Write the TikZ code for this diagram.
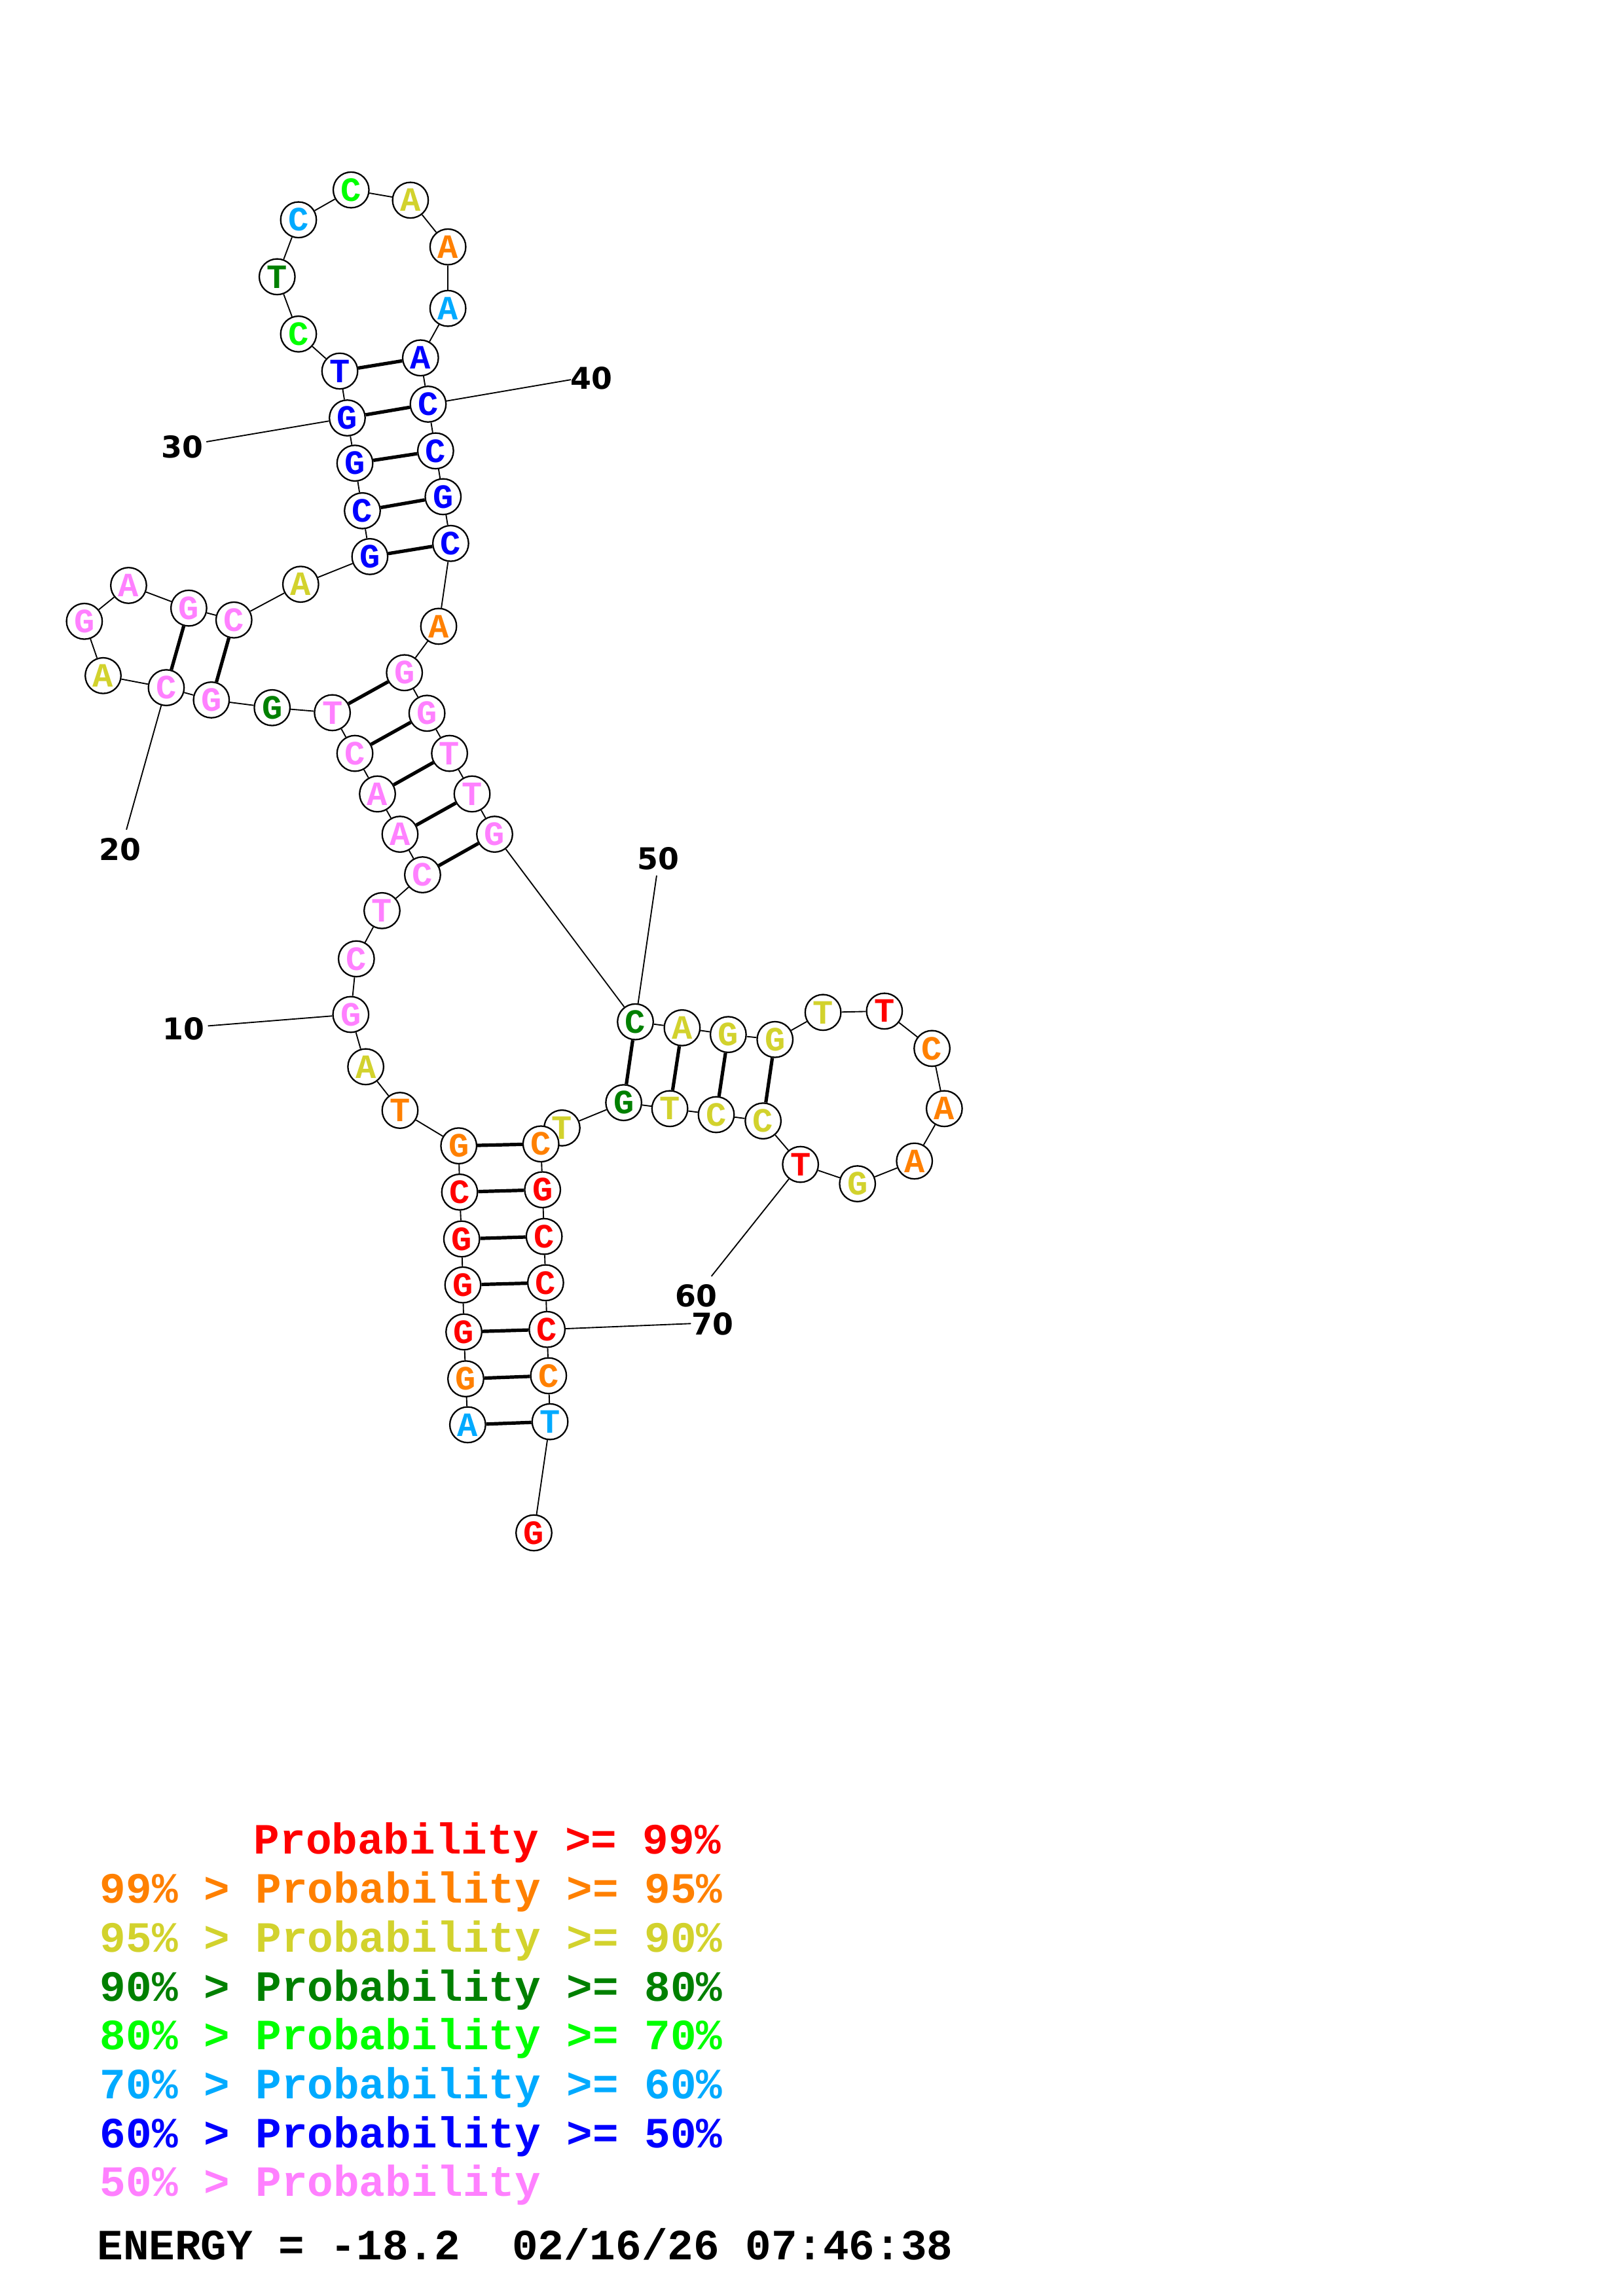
\documentclass[tikz,border=0pt]{standalone}
\usepackage{fontspec}
\newfontfamily\monofnt{Liberation Mono}
\newfontfamily\labfnt{DejaVu Sans}
\usetikzlibrary{backgrounds}
\definecolor{cR}{RGB}{255,0,0}
\definecolor{cO}{RGB}{255,128,0}
\definecolor{cY}{RGB}{210,210,45}
\definecolor{cD}{RGB}{0,128,0}
\definecolor{cG}{RGB}{0,255,0}
\definecolor{cL}{RGB}{0,170,255}
\definecolor{cB}{RGB}{0,0,255}
\definecolor{cP}{RGB}{255,128,255}
\tikzset{
 basecirc/.style={circle,draw=black,line width=0.55pt,fill=white,minimum size=13.1pt,inner sep=0pt},
 lett/.style={font=\monofnt\bfseries\fontsize{12.5}{12.5}\selectfont,inner sep=0pt},
 bb/.style={line width=0.45pt},
 pairln/.style={line width=1.25pt},
 numlab/.style={font=\labfnt\bfseries\fontsize{11}{11}\selectfont,inner sep=0pt},
 leg/.style={font=\monofnt\bfseries\fontsize{15.85}{16}\selectfont,inner sep=0pt,anchor=base west},
}
\begin{document}
\begin{tikzpicture}[x=0.53725pt,y=-0.53725pt]
\def\bases{1/319.3/973/A/cL, 2/318/941.6/G/cO, 3/316.7/909.6/G/cR, 4/316/877.5/G/cR,
5/315.2/846.1/G/cR, 6/313.8/814.1/C/cR, 7/313.2/782.5/G/cO, 8/273.1/758.3/T/cO,
9/249.7/728.5/A/cY, 10/239.5/692.8/G/cP, 11/243.3/654.8/C/cP, 12/260.8/621.9/T/cP,
13/288.5/597.4/C/cP, 14/273.1/569.7/A/cP, 15/257.7/542.2/A/cP, 16/242.3/514.5/C/cP,
17/226.9/486.7/T/cP, 18/185.8/483.3/G/cD, 19/144.3/478/G/cP, 20/113.5/469.6/C/cP,
21/70.4/461.4/A/cY, 22/57.6/424.3/G/cP, 23/87.8/399.8/A/cP, 24/128.9/415.3/G/cP,
25/159.7/423.4/C/cP, 26/205.3/399/A/cY, 27/252.5/380.1/G/cB, 28/247.4/348.8/C/cB,
29/242.3/316.3/G/cB, 30/237.1/285.4/G/cB, 31/232/253.4/T/cB, 32/203.8/228.1/C/cG,
33/189.2/189/T/cD, 34/203.8/150.1/C/cL, 35/239.7/129.7/C/cG, 36/280.2/136.7/A/cY,
37/305.8/168.6/A/cO, 38/305.8/210.6/A/cL, 39/287.1/244.4/A/cB, 40/292.3/276/C/cB,
41/297.4/307.9/C/cB, 42/302.5/339.2/G/cB, 43/307.7/371.1/C/cB, 44/299.5/427.7/A/cO,
45/276.1/459.4/G/cP, 46/291.5/487.1/G/cP, 47/306.9/514.5/T/cP, 48/322.3/542.2/T/cP,
49/337.7/569.7/G/cP, 50/433.8/697.8/C/cD, 51/465.7/701.9/A/cY, 52/497.2/706.5/G/cY,
53/529.1/709.9/G/cY, 54/561.9/691.4/T/cY, 55/603.8/690.5/T/cR, 56/636.3/716/C/cO,
57/644.7/757.1/A/cO, 58/624.3/792.9/A/cO, 59/585.4/808.4/G/cY, 60/546.5/795.2/T/cR,
61/521/765.5/C/cY, 62/489/761.2/C/cY, 63/457.3/757.1/T/cY, 64/425.8/753/G/cD,
65/383.7/770.3/T/cY, 66/369.3/781.2/C/cO, 67/370.4/812.5/G/cR, 68/371.5/844.4/C/cR,
69/372.5/876/C/cR, 70/373.5/907.9/C/cR, 71/374.5/939.5/C/cO, 72/375.5/970.9/T/cL,
73/364.5/1046.8/G/cR}
\begin{pgfonlayer}{background}
\fill[white] (0,0) rectangle (1108,1568);
\end{pgfonlayer}
\useasboundingbox (0,0) rectangle (1108,1568);
\foreach \i/\x/\y/\c/\col in \bases {\node[basecirc] (n\i) at (\x,\y) {};}
\foreach \i/\x/\y/\c/\col in \bases {\node[lett,text=\col] (l\i) at (n\i) {\c};}
% label end points
\coordinate (e10) at (142,700.6);
\coordinate (e20) at (86.3,566.6);
\coordinate (e30) at (140.9,301.7);
\coordinate (e40) at (389.7,259.3);
\coordinate (e50) at (448.3,597.9);
\coordinate (e60) at (485.7,871.6);
\coordinate (e70) at (471.7,903.9);
\begin{pgfonlayer}{background}
\foreach \i in {1,...,72} {\pgfmathtruncatemacro\j{\i+1}\draw[bb] (n\i) -- (n\j);}
\foreach \a/\b in {1/72,2/71,3/70,4/69,5/68,6/67,7/66,13/49,14/48,15/47,16/46,17/45,19/25,20/24,27/43,28/42,29/41,30/40,31/39,50/64,51/63,52/62,53/61}
  {\draw[pairln] (n\a) -- (n\b);}
\foreach \k in {10,20,30,40,50,60,70} {\draw[bb] (n\k) -- (e\k);}
\end{pgfonlayer}
\node[numlab] (t10) at (125.3,702.5) {10};
\node[numlab] (t20) at (81.9,580) {20};
\node[numlab] (t30) at (124.3,305.3) {30};
\node[numlab] (t40) at (403.9,258.4) {40};
\node[numlab] (t50) at (449.4,586.5) {50};
\node[numlab] (t60) at (475.3,884.8) {60};
\node[numlab] (t70) at (486.6,904.2) {70};
% legend
\node[leg,text=cR] (g1) at (173,1266.1) {Probability >= 99\%};
\node[leg,text=cO] (g2) at (68,1299.5) {99\% > Probability >= 95\%};
\node[leg,text=cY] (g3) at (68,1333) {95\% > Probability >= 90\%};
\node[leg,text=cD] (g4) at (68,1366.4) {90\% > Probability >= 80\%};
\node[leg,text=cG] (g5) at (68,1399.8) {80\% > Probability >= 70\%};
\node[leg,text=cL] (g6) at (68,1433.2) {70\% > Probability >= 60\%};
\node[leg,text=cB] (g7) at (68,1466.6) {60\% > Probability >= 50\%};
\node[leg,text=cP] (g8) at (68,1499.8) {50\% > Probability};
\node[leg,text=black] (g9) at (66,1543.1) {ENERGY = -18.2~~02/16/26 07:46:38};
\end{tikzpicture}
\end{document}
